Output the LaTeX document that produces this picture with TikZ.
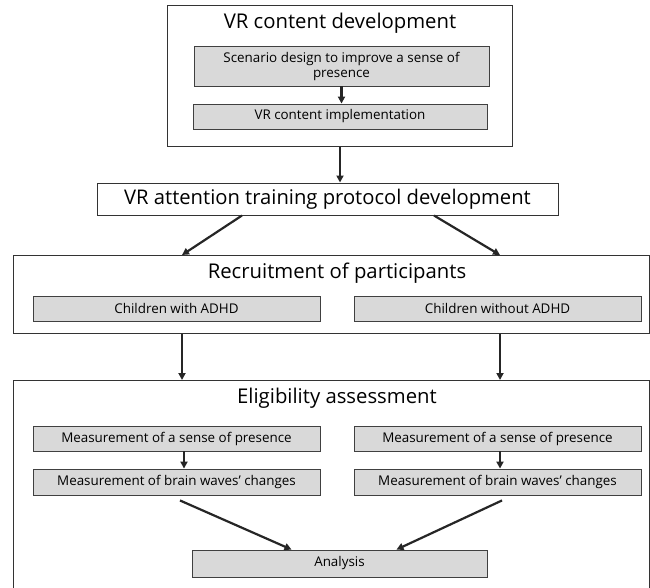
\documentclass[tikz,border=0pt]{standalone}
\usepackage{fontspec}
\setmainfont{Open Sans}
\usetikzlibrary{arrows.meta, positioning}
\tikzset{
    frame/.style={draw=black!80, line width=1pt, fill=white, anchor=north west, inner sep=0pt},
    graybox/.style={draw=black!75, line width=0.9pt, fill=gray!30, align=center, inner sep=0pt, font=\fontsize{13.4}{15}\selectfont},
    title/.style={inner sep=0pt, font=\fontsize{20.3}{23}\selectfont},
    arrow/.style={-{Triangle[width=7pt,length=7pt]}, line width=2.2pt, black!85}
}
\begin{document}
\begin{tikzpicture}[x=1pt, y=-1pt]
    \useasboundingbox (0,0) rectangle (650,587);
    \clip (0,0) rectangle (650,587);
    \coordinate (colL) at (182,0);
    \coordinate (colR) at (500,0);
    % VR content development
    \node [frame, minimum width=345, minimum height=141] (dev) at (167,5) {};
    \node [title] (devtitle) at (340,23) {VR content development};
    \node [graybox, minimum width=295, minimum height=40] (scen) at (341.5,66) {Scenario design to improve a sense of \\ presence};
    \node [graybox, minimum width=294, minimum height=25] (impl) at (340,116.5) {VR content implementation};
    \draw [arrow] (scen.south) -- (scen.south |- impl.north);
    % protocol
    \node [draw=black!80, line width=1pt, minimum width=461, minimum height=32, inner sep=0pt, font=\fontsize{20.2}{23}\selectfont] (attn) at (327.5,199) {VR attention training protocol development};
    \draw [arrow] (dev.south) -- (dev.south |- attn.north);
    % Recruitment of participants
    \node [frame, minimum width=636, minimum height=78] (recruit) at (13,255) {};
    \node [title] (rectitle) at (337,273) {Recruitment of participants};
    \node [graybox, minimum width=287, minimum height=25] (adhd) at (176.5,308.5) {Children with ADHD};
    \node [graybox, minimum width=287, minimum height=25] (noadhd) at (497.5,308.5) {Children without ADHD};
    \draw [arrow] ([xshift=-85.5]attn.south) -- (recruit.north -| colL);
    \draw [arrow] ([xshift=106.5]attn.south) -- (recruit.north -| colR);
    % Eligibility assessment
    \node [frame, minimum width=636, minimum height=230] (elig) at (13,380) {};
    \node [title] (eligtitle) at (337,398) {Eligibility assessment};
    \draw [arrow] (recruit.south -| colL) -- (elig.north -| colL);
    \draw [arrow] (recruit.south -| colR) -- (elig.north -| colR);
    \node [graybox, minimum width=287, minimum height=25] (presL) at (176.5,438.5) {Measurement of a sense of presence};
    \node [graybox, minimum width=287, minimum height=25] (presR) at (497.5,438.5) {Measurement of a sense of presence};
    \node [graybox, minimum width=287, minimum height=26] (brainL) at (176.5,482) {Measurement of brain waves’ changes};
    \node [graybox, minimum width=287, minimum height=26] (brainR) at (497.5,482) {Measurement of brain waves’ changes};
    \node [graybox, minimum width=295, minimum height=27] (analysis) at (339.5,563.5) {Analysis};
    \draw [arrow] ([xshift=7.5]presL.south) -- ([xshift=7.5]presL.south |- brainL.north);
    \draw [arrow] ([xshift=2.5]presR.south) -- ([xshift=2.5]presR.south |- brainR.north);
    \draw [arrow] ([xshift=3.5,yshift=-5]brainL.south) -- ([xshift=-48]analysis.north);
    \draw [arrow] ([xshift=4.5,yshift=-5]brainR.south) -- ([xshift=57]analysis.north);
\end{tikzpicture}
\end{document}
